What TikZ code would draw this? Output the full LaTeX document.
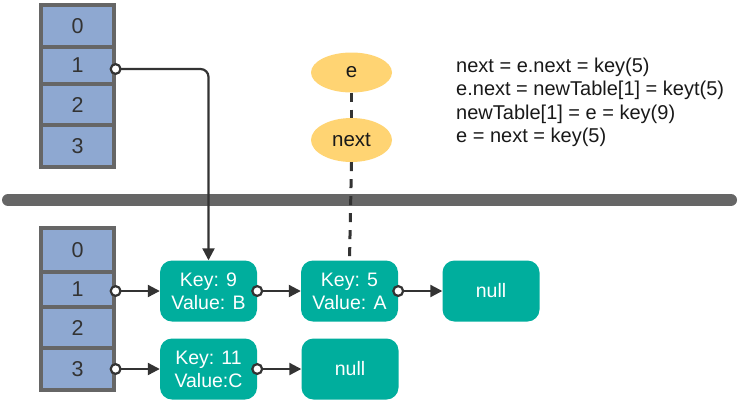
\documentclass[tikz,border=0pt]{standalone}
\usepackage{fontspec}
\setmainfont{Liberation Sans}
\usetikzlibrary{arrows.meta,shapes.geometric}
\definecolor{cellblue}{HTML}{8EA8D1}
\definecolor{cellgray}{HTML}{666666}
\definecolor{tealbox}{HTML}{00AE9D}
\definecolor{yel}{HTML}{FFD473}
\definecolor{ink}{HTML}{333333}
\begin{document}
\begin{tikzpicture}[x=1pt,y=-1pt,
 cell/.style={draw=cellgray,line width=3.2pt,fill=cellblue,minimum width=73pt,inner sep=0,text=ink,font=\fontsize{21.5}{21.5}\selectfont},
 entry/.style={fill=tealbox,rounded corners=12pt,minimum width=97pt,minimum height=61pt,text=white,align=center,inner sep=0,font=\fontsize{19.5}{23}\selectfont},
 var/.style={ellipse,fill=yel,minimum width=81pt,inner sep=0,text=black!90,font=\fontsize{20.5}{20.5}\selectfont},
 link/.style={draw=ink,line width=2.2pt,{Circle[length=12pt,width=12pt,fill=white]}-{Triangle[length=12pt,width=12pt]},shorten <=-6pt},
 dashlink/.style={draw=ink,line width=3pt,dash pattern=on 9pt off 8pt},
]
\useasboundingbox (0,0) rectangle (739,400);

% separator bar
\draw[cellgray,line width=12pt,line cap=round] (8,200) -- (731,200);

% top table
\node[cell,minimum height=42pt] (t0) at (77.5,26) {0};
\node[cell,minimum height=37pt] (t1) at (77.5,65.5) {1};
\node[cell,minimum height=41pt] (t2) at (77.5,104.5) {2};
\node[cell,minimum height=42pt] (t3) at (77.5,146) {3};

% bottom table
\node[cell,minimum height=44pt] (b0) at (77.5,250) {0};
\node[cell,minimum height=35pt] (b1) at (77.5,289.5) {1};
\node[cell,minimum height=41pt] (b2) at (77.5,327.5) {2};
\node[cell,minimum height=42pt] (b3) at (77.5,369) {3};

% entries
\node[entry] (k9) at (208.5,291) {Key: 9\\Value: B};
\node[entry] (k5) at (349.5,291) {Key: 5\\Value: A};
\node[entry] (n1) at (491,291) {null};
\node[entry] (k11) at (208.5,369) {Key: 11\\Value:C};
\node[entry] (n2) at (350,369) {null};

% variables
\node[var,minimum height=40pt] (e) at (351.5,72.5) {e};
\node[var,minimum height=44pt] (nx) at (351.5,140) {next};

% code text
\node[anchor=west,align=left,inner sep=0,text=black!90,font=\fontsize{20}{23.5}\selectfont] (code) at (456,102.5)
 {next = e.next = key(5)\\e.next = newTable[1] = keyt(5)\\newTable[1] = e = key(9)\\e = next = key(5)};

% connectors
\draw[link,rounded corners=8pt] ([yshift=-3.5pt]t1.east) -| (k9.north);
\draw[link] (b1.east |- k9.west) -- (k9.west);
\draw[link] (k9.east) -- (k5.west);
\draw[link] (k5.east) -- (n1.west);
\draw[link] (b3.east) -- (k11.west);
\draw[link] (k11.east) -- (n2.west);
\draw[dashlink] (e.south) -- (nx.north);
\draw[dashlink] (nx.south) -- (k5.north);
\end{tikzpicture}
\end{document}
